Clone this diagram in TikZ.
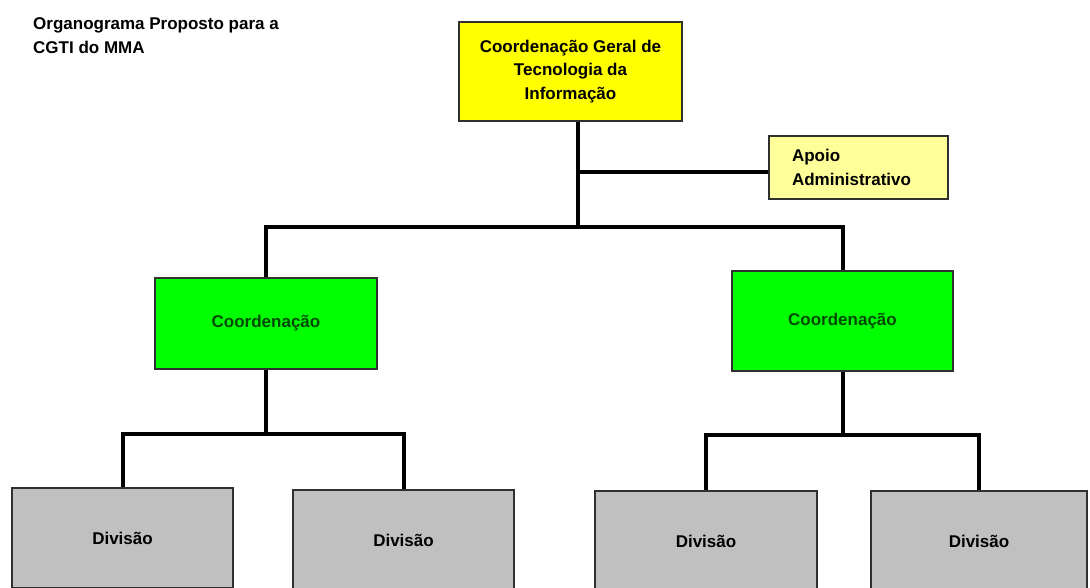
\documentclass[tikz,border=0pt]{standalone}
\usepackage{fontspec}
\setmainfont{Liberation Sans}
\definecolor{amarelo}{HTML}{FFFF00}
\definecolor{amareloclaro}{HTML}{FFFF99}
\definecolor{verde}{HTML}{00FF00}
\definecolor{verdeescuro}{HTML}{004A00}
\definecolor{cinza}{HTML}{C0C0C0}
\definecolor{borda}{HTML}{303030}
\tikzset{
  caixa/.style={draw=borda, line width=1.5pt, rectangle, inner sep=0pt,
    font=\fontsize{17}{23.5}\selectfont\bfseries, align=center},
  conn/.style={draw=black, line width=4pt},
}
\begin{document}
\begin{tikzpicture}[x=1pt,y=-1pt]
      \useasboundingbox (0,0) rectangle (1090,588);
      \clip (0,0) rectangle (1090,588);
      \fill[white] (0,0) rectangle (1090,588);
      \node[anchor=north west, inner sep=0pt, align=left,
        font=\fontsize{17}{24}\selectfont\bfseries] (titulo) at (33,17)
        {Organograma Proposto para a\\CGTI do MMA};
      \node[caixa, fill=amarelo, minimum width=223pt, minimum height=99pt]
        (cg) at (570.5,71.5) {Coordenação Geral de\\Tecnologia da\\Informação};
      \node[caixa, fill=amareloclaro, minimum width=179pt, minimum height=63pt,
        text width=133pt, align=left, inner xsep=23pt]
        (apoio) at (858.5,167.5) {Apoio\\Administrativo};
      \node[caixa, fill=verde, text=verdeescuro, minimum width=222pt, minimum height=91pt]
        (c1) at (266,323.5) {Coordenação};
      \node[caixa, fill=verde, text=verdeescuro, minimum width=221pt, minimum height=100pt]
        (c2) at (842.5,321) {Coordenação};
      \node[caixa, fill=cinza, minimum width=221pt, minimum height=100pt]
        (d1) at (122.5,538) {Divisão};
      \node[caixa, fill=cinza, minimum width=221pt, minimum height=100pt]
        (d2) at (403.5,540) {Divisão};
      \node[caixa, fill=cinza, minimum width=222pt, minimum height=100pt]
        (d3) at (706,541) {Divisão};
      \node[caixa, fill=cinza, minimum width=216pt, minimum height=100pt]
        (d4) at (979,541) {Divisão};
      % ligacoes
      \coordinate (jtop) at (578,227);
      \coordinate (j1) at ([yshift=-64pt]c1.south);
      \coordinate (j2) at ([yshift=-63pt]c2.south);
      \begin{scope}[conn]
        \draw (cg.south -| jtop) -- (jtop);
        \draw (apoio.west |- 0,172) -- (jtop |- 0,172);
        \draw (c1.north) -- (c1.north |- jtop) -- (c2.north |- jtop) -- (c2.north);
        \draw (c1.south) -- (j1);
        \draw (d1.north) -- (d1.north |- j1) -- (d2.north |- j1) -- (d2.north);
        \draw (c2.south) -- (j2);
        \draw (d3.north) -- (d3.north |- j2) -- (d4.north |- j2) -- (d4.north);
      \end{scope}
    \end{tikzpicture}
\end{document}
